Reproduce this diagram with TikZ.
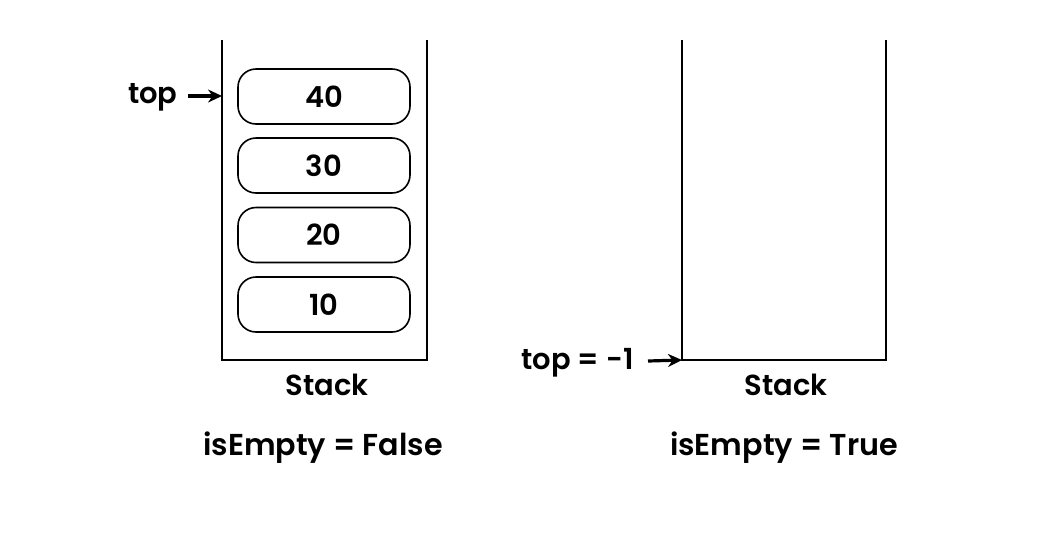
\documentclass[tikz,border=0pt]{standalone}
\usepackage{fontspec}
\setmainfont{Poppins}[BoldFont={Poppins SemiBold}]
\usetikzlibrary{arrows.meta}
\tikzset{cell/.style={draw, rounded corners=9pt, minimum width=86pt, minimum height=27.5pt, line width=0.8pt, inner sep=0pt},
	wall/.style={line width=0.9pt},
	lbl/.style={inner sep=0pt, font=\fontsize{14.5}{16}\selectfont\bfseries},
	big/.style={inner sep=0pt, font=\fontsize{15.1}{18}\selectfont\bfseries},
	ptr/.style={-{Stealth[length=7pt,width=6.5pt]}, line width=1.6pt}}

\begin{document}
\begin{tikzpicture}
    [x=0.5pt, y=-0.5pt]
    \useasboundingbox (0,0) rectangle (1043,554);
    % left stack
    \coordinate (lt1) at (222,40);
    \coordinate (lb1) at (222,360);
    \coordinate (rb1) at (427,360);
    \coordinate (rt1) at (427,40);
    \draw[wall] (lt1) -- (lb1) -- (rb1) -- (rt1);
    \node[cell, lbl] (n40) at (324,96.5){40};
    \node[cell, lbl] (n30) at (324,165.5){30};
    \node[cell, lbl] (n20) at (324,235){20};
    \node[cell, lbl] (n10) at (324,304.5){10};
    \node[lbl, anchor=base east] (top1) at (178,103){top};
    \coordinate (s1) at (188,96);
    \coordinate (p1) at (222,96);
    \draw[ptr] (s1) -- (p1);
    \node[lbl, anchor=base] (st1) at (327,395){Stack};
    \node[big, anchor=base] (e1) at (323,455){isEmpty = False};
    % right stack
    \coordinate (lt2) at (682,40);
    \coordinate (lb2) at (682,360);
    \coordinate (rb2) at (886,360);
    \coordinate (rt2) at (886,40);
    \draw[wall] (lt2) -- (lb2) -- (rb2) -- (rt2);
    \node[lbl, anchor=base east] (top2) at (634,369){top = -1};
    \coordinate (s2) at (648,361);
    \draw[ptr] (s2) -- (lb2);
    \node[lbl, anchor=base] (st2) at (786,395){Stack};
    \node[big, anchor=base] (e2) at (784,455){isEmpty = True};
\end{tikzpicture}
\end{document}
